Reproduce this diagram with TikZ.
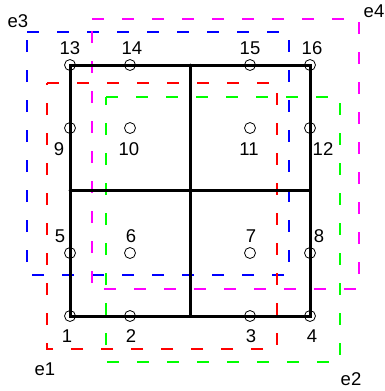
\documentclass[tikz,border=0pt]{standalone}
\usepackage{fontspec}
\setmainfont{Liberation Sans}
\definecolor{eblue}{RGB}{0,0,255}
\definecolor{emag}{RGB}{255,0,255}
\definecolor{ered}{RGB}{255,0,0}
\definecolor{egreen}{RGB}{0,255,0}
\begin{document}
\begin{tikzpicture}[x=1pt,y=-1pt,
  dot/.style={circle,draw,line width=0.8pt,minimum size=11pt,inner sep=0pt},
  lab/.style={anchor=base,font=\fontsize{18.5}{22}\selectfont,inner sep=0pt},
  gridline/.style={line width=3pt,line cap=round,line join=miter},
  ebox/.style={line width=1.2pt,dash pattern=on 12pt off 18pt}]
\useasboundingbox (0,0) rectangle (385,391);
% dashed element boxes
\begin{scope}[color=eblue]
\draw[ebox] (27,32) -- (289,32) -- (289,275) -- (27,275) -- cycle;
\end{scope}
\begin{scope}[color=emag]
\draw[ebox] (92,19) -- (359,19) -- (359,289) -- (92,289) -- cycle;
\end{scope}
\begin{scope}[color=ered]
\draw[ebox] (47,83) -- (277,83) -- (277,349) -- (47,349) -- cycle;
\end{scope}
\begin{scope}[color=egreen]
\draw[ebox] (106,97) -- (340,97) -- (340,362) -- (106,362) -- cycle;
\end{scope}
% node circles
\node[dot] (n1)  at (70,316) {};
\node[dot] (n2)  at (130,316) {};
\node[dot] (n3)  at (250,316) {};
\node[dot] (n4)  at (310,316) {};
\node[dot] (n5)  at (70,253) {};
\node[dot] (n6)  at (130,253) {};
\node[dot] (n7)  at (250,253) {};
\node[dot] (n8)  at (310,253) {};
\node[dot] (n9)  at (70,128) {};
\node[dot] (n10) at (130,128) {};
\node[dot] (n11) at (250,128) {};
\node[dot] (n12) at (310,128) {};
\node[dot] (n13) at (70,65) {};
\node[dot] (n14) at (130,65) {};
\node[dot] (n15) at (250,65) {};
\node[dot] (n16) at (310,65) {};
\coordinate (mb) at (190,316);
\coordinate (mt) at (190,65);
\coordinate (ml) at (70,190);
\coordinate (mr) at (310,190);
% grid
\draw[gridline] (n1.center) -- (n4.center) -- (n16.center) -- (n13.center) -- cycle;
\draw[gridline] (mb) -- (mt);
\draw[gridline] (ml) -- (mr);
% labels
\node[lab] (l1)  at (67,342) {1};
\node[lab] (l2)  at (131,342) {2};
\node[lab] (l3)  at (251,342) {3};
\node[lab] (l4)  at (312,342) {4};
\node[lab] (l5)  at (60,242) {5};
\node[lab] (l6)  at (131,242) {6};
\node[lab] (l7)  at (251,242) {7};
\node[lab] (l8)  at (319,242) {8};
\node[lab] (l9)  at (59,155) {9};
\node[lab] (l10) at (129,155) {10};
\node[lab] (l11) at (249,155) {11};
\node[lab] (l12) at (323,155) {12};
\node[lab] (l13) at (70,54) {13};
\node[lab] (l14) at (132,54) {14};
\node[lab] (l15) at (250,54) {15};
\node[lab] (l16) at (312,54) {16};
\node[lab] (e1) at (45,375) {e1};
\node[lab] (e2) at (351,385) {e2};
\node[lab] (e3) at (18,27) {e3};
\node[lab] (e4) at (374,17) {e4};
\end{tikzpicture}
\end{document}
